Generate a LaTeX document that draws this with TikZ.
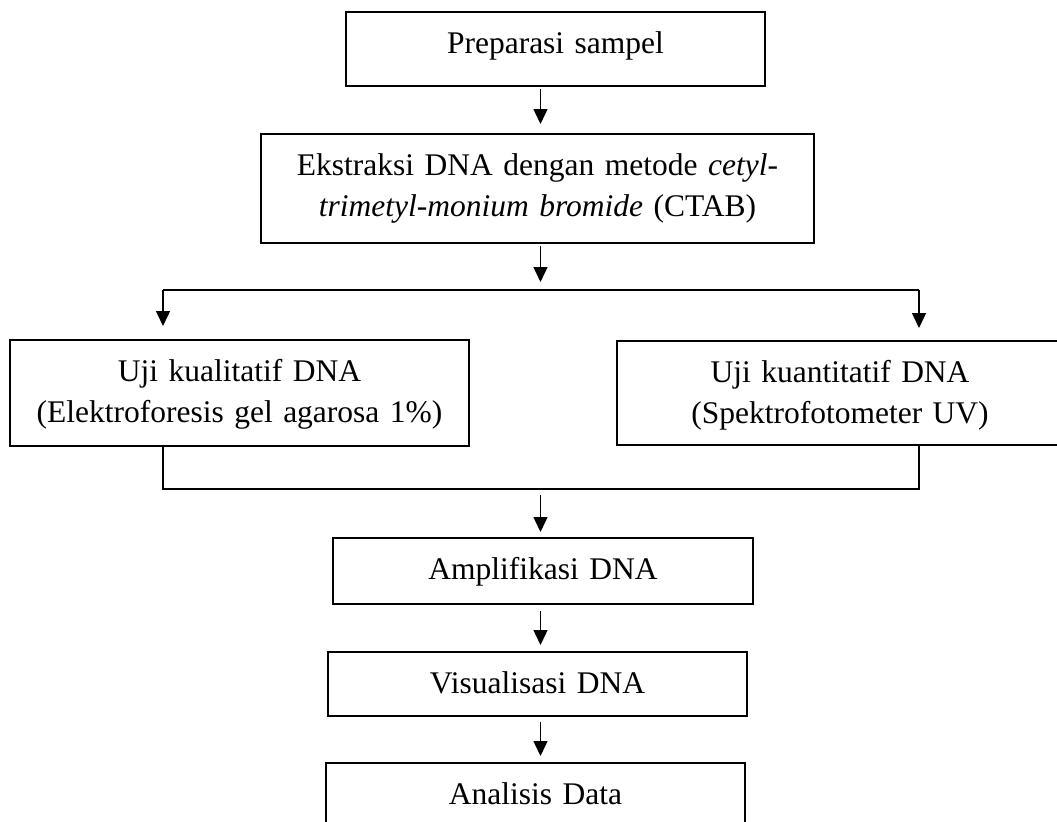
\documentclass[tikz,border=0pt]{standalone}
\usepackage{fontspec}
\setmainfont{Liberation Serif}
\usetikzlibrary{arrows.meta}
\begin{document}
\begin{tikzpicture}[x=0.5pt,y=-0.5pt,
  box/.style={draw, line width=1pt, inner sep=0pt, anchor=north west, align=center,
    text height=20.5pt, font=\fontsize{15.75}{20.5}\selectfont},
  arr/.style={line width=0.7pt, -{Triangle[length=7.5pt,width=7pt]}},
  link/.style={line width=0.8pt}]
\useasboundingbox (0,0) rectangle (1057,821);
\node[box, text width=209.5pt, text depth=16.5pt] (prep) at (345,11) {Preparasi sampel};
\node[box, text width=276.5pt, text depth=34pt] (ext) at (260,133)
  {Ekstraksi DNA dengan metode \textit{cetyl-}\\\textit{trimetyl-monium bromide} (CTAB)};
\node[box, text width=229.5pt, text depth=32.5pt] (kual) at (9,339)
  {Uji kualitatif DNA\\(Elektroforesis gel agarosa 1\%)};
\node[box, text width=223pt, text depth=31.5pt] (kuan) at (616,340)
  {Uji kuantitatif DNA\\(Spektrofotometer UV)};
\node[box, text width=210pt, text depth=12.5pt] (amp) at (332,537) {Amplifikasi DNA};
\node[box, text width=209.5pt, text depth=11.5pt] (vis) at (327,651) {Visualisasi DNA};
\node[box, text width=209.5pt, text depth=16pt] (ana) at (325,762) {Analisis Data};
\coordinate (ax) at (540.5,0);
\coordinate (bm) at (540.5,290);
\coordinate (bl) at (163,290);
\coordinate (brt) at (919,290);
\coordinate (jm) at (540.5,489);
\draw[arr, shorten <=1pt, shorten >=4.5pt] (prep.south -| ax) -- (ext.north -| ax);
\draw[arr, shorten <=1pt, shorten >=4pt] (ext.south -| bm) -- (bm);
\draw[link] (bl) -- (brt);
\draw[arr, shorten >=6.5pt] (bl) -- (kual.north -| bl);
\draw[arr, shorten >=6pt] (brt) -- (kuan.north -| brt);
\draw[link, line width=1pt] (kual.south -| bl) |- (jm) -| (kuan.south -| brt);
\draw[arr, shorten <=3pt, shorten >=2.5pt] (jm) -- (amp.north -| jm);
\draw[arr, shorten <=3pt, shorten >=3pt] (amp.south -| jm) -- (vis.north -| jm);
\draw[arr, shorten <=2.5pt, shorten >=3pt] (vis.south -| jm) -- (ana.north -| jm);
\end{tikzpicture}
\end{document}
